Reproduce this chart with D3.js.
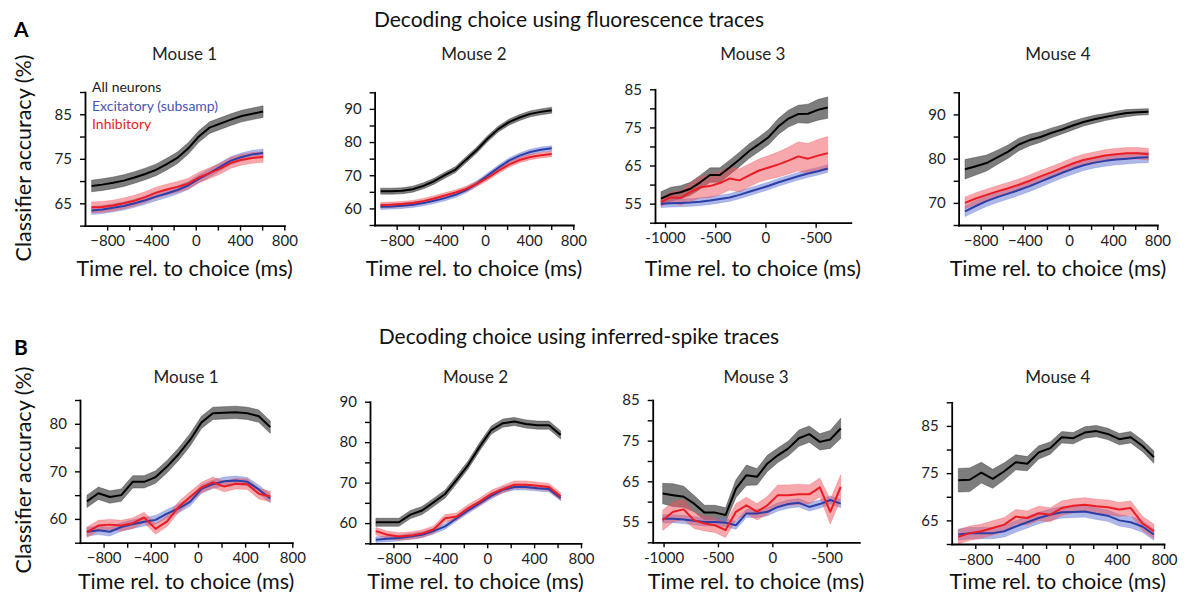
<!DOCTYPE html>
<html><head><meta charset="utf-8">
<script src="https://cdn.jsdelivr.net/npm/d3@7"></script>
<style>
body{margin:0;background:#fff}
svg{display:block}
text{font-family:Lato,'Open Sans',sans-serif}
</style>
</head><body>
<svg id="c" width="1189" height="605"></svg>
<script>
// ---------------- DATA ----------------
// Row A: fluorescence traces
const tA1 = [-940,-843,-746,-650,-553,-456,-359,-262,-166,-69,28,125,221,318,415,512,608];
const allA1 = [68.9,69.2,69.6,70.1,70.8,71.6,72.5,73.8,75.2,77.3,80.0,82.0,82.9,83.8,84.6,85.1,85.6];
const excA1 = [63.4,63.6,64.0,64.4,65.0,65.7,66.5,67.2,68.0,69.0,70.5,71.8,73.2,74.6,75.4,76.0,76.3];
const inhA1 = [64.1,64.2,64.5,65.0,65.6,66.4,67.4,68.1,68.7,69.4,70.8,71.8,72.8,74.1,74.8,75.2,75.4];
const seAllA1 = 1.3, seExcA1 = 0.9, seInhA1 = 1.2;

const tA2 = [-945,-848,-751,-655,-558,-461,-364,-267,-171,-74,23,120,217,314,410,507,604];
const allA2 = [65.2,65.2,65.3,65.8,66.8,68.2,70.0,71.7,74.7,77.6,81.0,83.9,86.0,87.4,88.5,89.1,89.6];
const excA2 = [60.5,60.6,60.8,61.1,61.6,62.3,63.1,64.1,65.5,67.5,69.9,72.2,74.4,75.9,77.0,77.7,78.1];
const inhA2 = [61.0,61.1,61.3,61.6,62.2,63.0,63.9,64.8,65.9,67.4,69.2,71.3,73.2,74.6,75.5,76.0,76.4];
const seAllA2 = 0.9, seExcA2 = 0.8, seInhA2 = 0.8;

const tA3 = [-1040,-942,-845,-747,-650,-552,-454,-357,-259,-162,-64,34,131,229,326,424,522,620];
const allA3 = [56.3,57.5,58.0,58.9,60.6,62.5,62.5,64.5,66.6,68.8,70.6,72.5,75.3,77.3,78.5,78.6,79.6,80.2];
const excA3 = [55.0,55.1,55.2,55.3,55.5,55.8,56.2,56.6,57.3,58.1,58.9,59.7,60.6,61.4,62.2,62.9,63.5,64.2];
const inhA3 = [55.4,56.7,56.5,58.0,59.3,59.6,60.4,61.6,61.1,62.4,63.7,64.5,65.3,66.3,67.4,66.8,67.6,68.2];
const seAllA3 = [1.8,1.8,1.7,1.7,1.8,1.9,1.9,1.9,1.9,1.9,1.9,2.0,2.1,2.2,2.3,2.5,2.7,2.8];
const seExcA3 = 1.0;
const seInhA3 = [1.0,1.4,1.9,2.4,2.8,3.0,3.0,3.0,3.0,3.0,3.0,3.1,3.3,3.5,3.8,4.0,4.2,4.4];

const tA4 = [-942,-844,-747,-649,-551,-454,-356,-258,-161,-63,35,132,230,328,425,523,621,719];
const allA4 = [77.6,78.3,79.0,80.3,81.6,83.2,84.2,84.9,85.8,86.6,87.5,88.3,88.9,89.4,89.9,90.3,90.5,90.6];
const excA4 = [68.1,69.3,70.4,71.3,72.1,72.9,73.8,74.8,75.8,76.8,77.7,78.5,79.1,79.5,79.8,80.0,80.2,80.3];
const inhA4 = [70.0,71.0,71.8,72.6,73.3,74.1,75.0,76.0,76.9,77.9,78.9,79.7,80.2,80.7,81.0,81.2,81.2,81.0];
const seAllA4 = [2.2,2.0,1.8,1.6,1.5,1.4,1.3,1.2,1.1,1.0,1.0,0.9,0.9,0.8,0.8,0.8,0.7,0.7];
const seExcA4 = 1.2, seInhA4 = 1.3;

// Row B: inferred-spike traces
const tB1 = [-941,-844,-747,-650,-553,-456,-359,-262,-164,-67,30,127,224,321,419,516,613];
const allB1 = [63.7,65.4,64.6,65.0,67.8,67.8,68.8,71.0,73.6,76.6,80.3,82.2,82.3,82.4,82.2,81.6,79.3];
const excB1 = [57.3,57.6,57.3,58.3,58.9,59.4,59.8,61.1,62.2,63.6,66.3,67.3,67.9,68.1,67.8,66.2,64.3];
const inhB1 = [57.2,58.6,58.8,58.6,59.1,60.3,57.9,59.5,62.5,64.6,66.6,67.7,66.8,67.4,67.3,65.3,64.7];
const seAllB1 = 1.3, seExcB1 = 0.9, seInhB1 = 1.1;

const tB2 = [-950,-852,-753,-655,-556,-458,-359,-261,-162,-64,35,133,232,330,429,527,626];
const allB2 = [60.2,60.2,60.2,62.1,63.1,65.1,67.2,70.7,74.4,78.9,83.0,84.7,85.1,84.5,84.2,84.2,81.8];
const excB2 = [55.9,56.1,56.3,56.7,57.1,58.0,59.2,61.2,63.1,64.9,66.7,68.2,68.9,68.9,68.6,68.4,66.2];
const inhB2 = [58.0,57.1,56.7,56.9,57.4,58.4,61.2,61.6,63.7,65.3,67.2,68.4,69.5,69.5,69.2,68.9,66.6];
const seAllB2 = 1.0, seExcB2 = 0.7, seInhB2 = 0.9;

const tB3 = [-1008,-912,-815,-719,-623,-527,-430,-334,-238,-141,-45,51,148,244,340,437,533,629];
const allB3 = [62.0,61.6,61.2,59.5,57.3,57.3,56.7,63.2,66.5,66.1,69.4,71.4,73.1,75.6,76.6,74.7,75.3,78.0];
const excB3 = [55.8,55.8,55.6,55.3,55.0,55.0,54.8,54.2,57.1,57.1,57.5,58.7,59.4,59.7,58.7,59.4,60.4,59.5];
const inhB3 = [55.4,57.5,58.1,55.4,54.6,54.2,53.0,57.5,59.1,57.5,59.1,61.6,61.6,61.8,61.8,63.5,57.5,63.6];
const seAllB3 = [2.5,2.8,2.6,2.0,1.8,1.8,1.8,2.2,2.5,2.0,2.0,1.8,1.8,2.0,2.0,2.0,2.2,2.5];
const seExcB3 = 1.0;
const seInhB3 = [2.5,2.5,2.5,2.0,1.8,1.8,1.8,2.0,2.0,2.0,2.2,2.5,2.5,2.5,2.3,2.3,3.0,3.0];

const tB4 = [-944,-847,-749,-652,-554,-457,-359,-262,-164,-67,31,128,226,323,421,518,616,714];
const allB4 = [73.5,73.6,75.1,73.8,75.4,77.3,77.0,79.4,80.3,82.6,82.4,83.6,83.9,83.3,82.2,82.6,80.8,78.4];
const excB4 = [62.0,62.3,62.3,62.3,62.7,63.7,64.6,65.5,66.2,66.7,66.8,66.9,66.4,66.0,65.0,64.6,63.7,62.0];
const inhB4 = [61.5,62.3,62.7,63.4,64.1,65.8,65.5,66.5,66.2,67.6,68.1,68.3,68.0,67.8,67.3,67.6,64.4,62.7];
const seAllB4 = [2.5,2.5,2.2,2.0,1.8,1.6,1.5,1.4,1.3,1.2,1.2,1.2,1.2,1.2,1.2,1.2,1.2,1.3];
const seExcB4 = 1.2, seInhB4 = 1.5;

// Axis ticks / labels
const xTicksStd = [-800,-600,-400,-200,0,200,400,600,800];
const xLabeledStd = [-800,-400,0,400,800];
const xTicksM3 = [-1000,-500,0,500];
const xLabelsM3 = ["-1000","-500","0","-500"];
const seriesNames = ["All neurons","Excitatory (subsamp)","Inhibitory"];
const mouseTitles = ["Mouse 1","Mouse 2","Mouse 3","Mouse 4"];
const rowTitles = ["Decoding choice using fluorescence traces","Decoding choice using inferred-spike traces"];
const rowLetters = ["A","B"];
const xTitle = "Time rel. to choice (ms)";
const yTitle = "Classifier accuracy (%)";

// ---------------- LAYOUT ----------------
const panels = [
 {t:tA1,all:allA1,exc:excA1,inh:inhA1,se:[seAllA1,seExcA1,seInhA1],xDom:[-1000,800],yDom:[60,90],yLab:[65,75,85],m:0,px:[85,284.3],py:[225.6,92]},
 {t:tA2,all:allA2,exc:excA2,inh:inhA2,se:[seAllA2,seExcA2,seInhA2],xDom:[-1000,800],yDom:[55,95],yLab:[60,70,80,90],m:1,px:[374.6,573.3],py:[225,92.3]},
 {t:tA3,all:allA3,exc:excA3,inh:inhA3,se:[seAllA3,seExcA3,seInhA3],xDom:[-1100,850],yDom:[50,85],yLab:[55,65,75,85],m:2,px:[655,850.8],py:[222.7,89.3]},
 {t:tA4,all:allA4,exc:excA4,inh:inhA4,se:[seAllA4,seExcA4,seInhA4],xDom:[-1000,800],yDom:[65,95],yLab:[70,80,90],m:3,px:[958.6,1157.3],py:[225,92.3]},
 {t:tB1,all:allB1,exc:excB1,inh:inhB1,se:[seAllB1,seExcB1,seInhB1],xDom:[-1000,800],yDom:[55,85],yLab:[60,70,80],m:0,px:[80,292.3],py:[542.7,400]},
 {t:tB2,all:allB2,exc:excB2,inh:inhB2,se:[seAllB2,seExcB2,seInhB2],xDom:[-1000,800],yDom:[55,90],yLab:[60,70,80,90],m:1,px:[370,581],py:[543.3,401.7]},
 {t:tB3,all:allB3,exc:excB3,inh:inhB3,se:[seAllB3,seExcB3,seInhB3],xDom:[-1100,800],yDom:[50,85],yLab:[55,65,75,85],m:2,px:[652.7,859.3],py:[542.3,400]},
 {t:tB4,all:allB4,exc:excB4,inh:inhB4,se:[seAllB4,seExcB4,seInhB4],xDom:[-1000,800],yDom:[60,90],yLab:[65,75,85],m:3,px:[951.7,1164],py:[544,402.3]}
];

const lineCol = ["#000000","#2b3fa8","#ec1c24"];
const bandCol = ["#3a3a3a","#6b7dd6","#f0525a"];
const bandOp = [0.66,0.55,0.5];

const svg = d3.select("#c");

panels.forEach((p,pi)=>{
  const row = pi < 4 ? 0 : 1;
  const x = d3.scaleLinear().domain(p.xDom).range(p.px);
  const y = d3.scaleLinear().domain(p.yDom).range(p.py);
  const g = svg.append("g");
  const series = [p.all,p.exc,p.inh];
  const pts = series.map((vals,si)=>vals.map((v,i)=>{
    const s = p.se[si];
    const e = Array.isArray(s) ? s[i] : s;
    return {t:p.t[i], m:v, e:e};
  }));
  const area = d3.area().x(d=>x(d.t)).y0(d=>y(d.m-d.e)).y1(d=>y(d.m+d.e));
  const line = d3.line().x(d=>x(d.t)).y(d=>y(d.m));
  pts.forEach((d,si)=>{
    g.append("path").attr("d",area(d)).attr("fill",bandCol[si]).attr("fill-opacity",bandOp[si])
     .attr("stroke",bandCol[si]).attr("stroke-opacity",bandOp[si]*0.7).attr("stroke-width",0.9);
  });
  pts.forEach((d,si)=>{
    g.append("path").attr("d",line(d)).attr("fill","none").attr("stroke",lineCol[si])
     .attr("stroke-width",2).attr("stroke-linejoin","round");
  });

  // axes
  const yTicks = d3.range(p.yDom[0], p.yDom[1]+0.1, 5);
  const yAx = d3.axisLeft(y).tickValues(yTicks).tickSize(5).tickPadding(8).tickSizeOuter(0)
     .tickFormat(d=>p.yLab.includes(d)? d3.format("d")(d) : "");
  let xAx;
  if (p.m === 2) {
    xAx = d3.axisBottom(x).tickValues(xTicksM3).tickFormat((d,i)=>xLabelsM3[i]);
  } else {
    xAx = d3.axisBottom(x).tickValues(xTicksStd).tickFormat(d=>xLabeledStd.includes(d)? d3.format("d")(d) : "");
  }
  xAx.tickSize(5).tickPadding(5).tickSizeOuter(0);
  const gx = g.append("g").attr("transform",`translate(0,${p.py[0]})`).call(xAx);
  const gy = g.append("g").attr("transform",`translate(${p.px[0]},0)`).call(yAx);
  [gx,gy].forEach(a=>{
    a.select(".domain").attr("stroke","#000").attr("stroke-width",1.8).attr("stroke-linecap","square");
    a.selectAll(".tick line").attr("stroke","#000").attr("stroke-width",1.4);
    a.selectAll(".tick text").attr("font-family","Lato, sans-serif").attr("font-size",15).attr("fill","#222");
  });

  const cx = (p.px[0]+p.px[1])/2;
  // panel title
  g.append("text").attr("x",cx).attr("y", row===0 ? 60 : 383).attr("text-anchor","middle")
    .attr("font-size",17).attr("fill","#222").text(mouseTitles[p.m]);
  // x title
  g.append("text").attr("x",cx).attr("y", row===0 ? 276 : 589).attr("text-anchor","middle")
    .attr("font-size",21.5).attr("fill","#111").text(xTitle);
  // y title
  if (p.m===0) {
    const yc = row===0 ? 158 : 470;
    g.append("text").attr("transform",`translate(31,${yc}) rotate(-90)`).attr("text-anchor","middle")
      .attr("font-size",21.5).attr("fill","#111").text(yTitle);
  }
});

// row titles and letters
svg.append("text").attr("x",569).attr("y",27).attr("text-anchor","middle").attr("font-size",21).attr("fill","#111").text(rowTitles[0]);
svg.append("text").attr("x",579).attr("y",344).attr("text-anchor","middle").attr("font-size",21).attr("fill","#111").text(rowTitles[1]);
svg.append("text").attr("x",14).attr("y",37).attr("font-size",21).attr("font-weight","bold").attr("fill","#000").text(rowLetters[0]);
svg.append("text").attr("x",14).attr("y",355).attr("font-size",21).attr("font-weight","bold").attr("fill","#000").text(rowLetters[1]);

// legend (panel A1)
const legCol = ["#222","#4656b8","#ec1c24"];
seriesNames.forEach((s,i)=>{
  svg.append("text").attr("x",92).attr("y",92+i*18.5).attr("font-size",14).attr("fill",legCol[i]).text(s);
});
</script>
</body></html>
